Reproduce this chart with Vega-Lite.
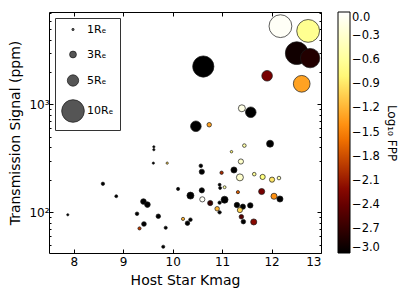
{
  "$schema": "https://vega.github.io/schema/vega-lite/v6.json",
  "width": 272,
  "height": 241,
  "autosize": {"type": "none"},
  "padding": {"left": 49, "top": 12, "right": 86, "bottom": 40},
  "config": {
    "font": "DejaVu Sans",
    "view": {"stroke": "black", "strokeWidth": 1},
    "axis": {"domain": false, "grid": false, "tickColor": "black", "labelColor": "black", "titleColor": "black", "labelFont": "DejaVu Sans", "titleFont": "DejaVu Sans", "labelFontSize": 12, "titleFontSize": 14, "titleFontWeight": "normal"},
    "legend": {"labelFont": "DejaVu Sans", "titleFont": "DejaVu Sans", "labelColor": "black", "titleColor": "black"}
  },
  "data": {"values": [
    {"kmag": 7.88, "signal": 95, "radius": 1.0, "logfpp": -3},
    {"kmag": 8.59, "signal": 184, "radius": 1.5, "logfpp": -3},
    {"kmag": 8.86, "signal": 141, "radius": 1.3, "logfpp": -3},
    {"kmag": 9.28, "signal": 97, "radius": 1.6, "logfpp": -3},
    {"kmag": 9.41, "signal": 126, "radius": 2.5, "logfpp": -3},
    {"kmag": 9.49, "signal": 118, "radius": 2.5, "logfpp": -3},
    {"kmag": 9.42, "signal": 78, "radius": 2.1, "logfpp": -3},
    {"kmag": 9.33, "signal": 71, "radius": 1.4, "logfpp": -1.9},
    {"kmag": 9.71, "signal": 92, "radius": 2.0, "logfpp": -3},
    {"kmag": 9.86, "signal": 72, "radius": 1.4, "logfpp": -3},
    {"kmag": 9.81, "signal": 48, "radius": 1.4, "logfpp": -3},
    {"kmag": 9.62, "signal": 405, "radius": 1.0, "logfpp": -3},
    {"kmag": 9.62, "signal": 381, "radius": 1.0, "logfpp": -3},
    {"kmag": 9.61, "signal": 286, "radius": 1.0, "logfpp": -3},
    {"kmag": 9.89, "signal": 286, "radius": 1.0, "logfpp": -1.0},
    {"kmag": 10.47, "signal": 628, "radius": 4.7, "logfpp": -3},
    {"kmag": 10.74, "signal": 649, "radius": 2.0, "logfpp": -1.3},
    {"kmag": 11.40, "signal": 922, "radius": 3.1, "logfpp": -0.15},
    {"kmag": 11.58, "signal": 847, "radius": 4.7, "logfpp": -3},
    {"kmag": 10.62, "signal": 2249, "radius": 9.4, "logfpp": -3},
    {"kmag": 11.91, "signal": 1845, "radius": 4.7, "logfpp": -2.3},
    {"kmag": 12.61, "signal": 1555, "radius": 7.4, "logfpp": -1.3},
    {"kmag": 12.18, "signal": 5321, "radius": 10.1, "logfpp": -0.05},
    {"kmag": 12.74, "signal": 4808, "radius": 10.1, "logfpp": -0.65},
    {"kmag": 12.51, "signal": 2992, "radius": 10.1, "logfpp": -2.9},
    {"kmag": 12.78, "signal": 2690, "radius": 8.6, "logfpp": -2.8},
    {"kmag": 11.45, "signal": 416, "radius": 1.6, "logfpp": -0.5},
    {"kmag": 11.97, "signal": 433, "radius": 3.1, "logfpp": -3},
    {"kmag": 11.19, "signal": 365, "radius": 1.1, "logfpp": -0.8},
    {"kmag": 10.57, "signal": 270, "radius": 1.6, "logfpp": -3},
    {"kmag": 10.59, "signal": 238, "radius": 2.3, "logfpp": -3},
    {"kmag": 10.99, "signal": 233, "radius": 1.5, "logfpp": -2.0},
    {"kmag": 11.24, "signal": 247, "radius": 2.7, "logfpp": -3},
    {"kmag": 11.38, "signal": 296, "radius": 2.3, "logfpp": -0.3},
    {"kmag": 11.36, "signal": 211, "radius": 3.1, "logfpp": -0.3},
    {"kmag": 11.65, "signal": 226, "radius": 1.6, "logfpp": -0.6},
    {"kmag": 11.82, "signal": 213, "radius": 2.3, "logfpp": -0.75},
    {"kmag": 12.01, "signal": 201, "radius": 2.3, "logfpp": -0.9},
    {"kmag": 12.15, "signal": 208, "radius": 1.6, "logfpp": -0.5},
    {"kmag": 10.11, "signal": 165, "radius": 1.4, "logfpp": -3},
    {"kmag": 10.59, "signal": 160, "radius": 2.3, "logfpp": -3},
    {"kmag": 10.95, "signal": 180, "radius": 1.3, "logfpp": -3},
    {"kmag": 10.96, "signal": 168, "radius": 1.3, "logfpp": -3},
    {"kmag": 11.05, "signal": 171, "radius": 1.3, "logfpp": -0.5},
    {"kmag": 11.32, "signal": 154, "radius": 1.4, "logfpp": -1.7},
    {"kmag": 11.80, "signal": 156, "radius": 2.7, "logfpp": -2.3},
    {"kmag": 12.05, "signal": 141, "radius": 2.7, "logfpp": -1.4},
    {"kmag": 12.17, "signal": 133, "radius": 2.7, "logfpp": -3},
    {"kmag": 10.36, "signal": 143, "radius": 3.1, "logfpp": -3},
    {"kmag": 10.60, "signal": 132, "radius": 2.3, "logfpp": -0.05},
    {"kmag": 10.76, "signal": 122, "radius": 2.3, "logfpp": -2.7},
    {"kmag": 10.95, "signal": 123, "radius": 1.5, "logfpp": -3},
    {"kmag": 11.05, "signal": 131, "radius": 3.1, "logfpp": -3},
    {"kmag": 10.90, "signal": 108, "radius": 2.0, "logfpp": -1.2},
    {"kmag": 10.95, "signal": 100, "radius": 1.5, "logfpp": -3},
    {"kmag": 11.30, "signal": 117, "radius": 2.4, "logfpp": -3},
    {"kmag": 11.42, "signal": 113, "radius": 2.3, "logfpp": -3},
    {"kmag": 11.57, "signal": 116, "radius": 2.4, "logfpp": -3},
    {"kmag": 11.36, "signal": 105, "radius": 2.3, "logfpp": -1.0},
    {"kmag": 11.39, "signal": 91, "radius": 2.0, "logfpp": -2.5},
    {"kmag": 11.43, "signal": 82, "radius": 2.0, "logfpp": -3},
    {"kmag": 11.64, "signal": 81.5, "radius": 2.7, "logfpp": -2.2},
    {"kmag": 10.21, "signal": 87, "radius": 1.4, "logfpp": -1.2},
    {"kmag": 10.36, "signal": 85.5, "radius": 1.6, "logfpp": -3},
    {"kmag": 10.30, "signal": 79.4, "radius": 2.0, "logfpp": -3}
  ]},
  "layer": [
    {
      "mark": {"type": "circle", "opacity": 1, "stroke": "#1a1a1a", "strokeWidth": 0.7},
      "encoding": {
        "x": {"field": "kmag", "type": "quantitative", "scale": {"domain": [7.5, 13], "nice": false, "zero": false},
          "axis": {"orient": "bottom", "title": "Host Star Kmag", "values": [8, 9, 10, 11, 12, 13], "format": "d", "tickSize": -4, "labelPadding": 7, "titlePadding": 6}},
        "y": {"field": "signal", "type": "quantitative", "scale": {"type": "log", "domain": [42, 7200], "nice": false},
          "axis": {"orient": "left", "title": "Transmission Signal (ppm)", "values": [100, 1000], "labelExpr": "datum.value == 100 ? '10²' : '10³'", "tickSize": -4, "labelPadding": 4, "titlePadding": 6}},
        "color": {"field": "logfpp", "type": "quantitative",
          "scale": {"domain": [-3, 0], "range": ["#000000", "#800000", "#ff8000", "#ffff80", "#ffffff"], "interpolate": "rgb", "clamp": true},
          "legend": {"orient": "right", "title": "Log₁₀ FPP", "titleOrient": "right", "titleAngle": 270, "titleFontSize": 12, "titleFontWeight": "normal",
            "gradientLength": 241, "gradientThickness": 12, "gradientStrokeColor": "black", "gradientStrokeWidth": 1,
            "values": [0, -0.3, -0.6, -0.9, -1.2, -1.5, -1.8, -2.1, -2.4, -2.7, -3.0], "format": ".1f", "labelOverlap": false, "labelFontSize": 11.5, "offset": 16, "padding": 0}},
        "size": {"field": "radius", "type": "quantitative",
          "scale": {"type": "pow", "exponent": 2, "domain": [0, 10], "range": [0, 510]},
          "legend": {"orient": "top-left", "values": [1, 3, 5, 10], "title": null, "labelExpr": "datum.value + 'Rₑ'",
            "strokeColor": "#333", "padding": 6, "offset": 6, "gridAlign": "all", "rowPadding": -6, "symbolType": "circle",
            "symbolFillColor": "#555555", "symbolStrokeColor": "#222222", "symbolStrokeWidth": 0.8, "labelFontSize": 11, "labelOffset": 2,
            "encode": {"symbols": {"update": {"fill": {"value": "#555555"}, "stroke": {"value": "#222222"}, "opacity": {"value": 1}}}}}}
      }
    },
    {
      "mark": {"type": "circle", "opacity": 0},
      "encoding": {
        "x": {"field": "kmag", "type": "quantitative", "axis": {"orient": "top", "title": null, "values": [8, 9, 10, 11, 12, 13], "labels": false, "tickSize": -4}},
        "y": {"field": "signal", "type": "quantitative", "axis": {"orient": "right", "title": null, "values": [100, 1000], "labels": false, "tickSize": -4}}
      }
    },
    {
      "mark": {"type": "circle", "opacity": 0},
      "encoding": {
        "x": {"field": "kmag", "type": "quantitative", "axis": null},
        "y": {"field": "signal", "type": "quantitative", "axis": {"orient": "left", "title": null, "values": [50, 60, 70, 80, 90, 200, 300, 400, 500, 600, 700, 800, 900, 2000, 3000, 4000, 5000, 6000, 7000], "labels": false, "tickSize": -2}}
      }
    },
    {
      "mark": {"type": "circle", "opacity": 0},
      "encoding": {
        "x": {"field": "kmag", "type": "quantitative", "axis": null},
        "y": {"field": "signal", "type": "quantitative", "axis": {"orient": "right", "title": null, "values": [50, 60, 70, 80, 90, 200, 300, 400, 500, 600, 700, 800, 900, 2000, 3000, 4000, 5000, 6000, 7000], "labels": false, "tickSize": -2}}
      }
    }
  ],
  "resolve": {"axis": {"x": "independent", "y": "independent"}}
}
